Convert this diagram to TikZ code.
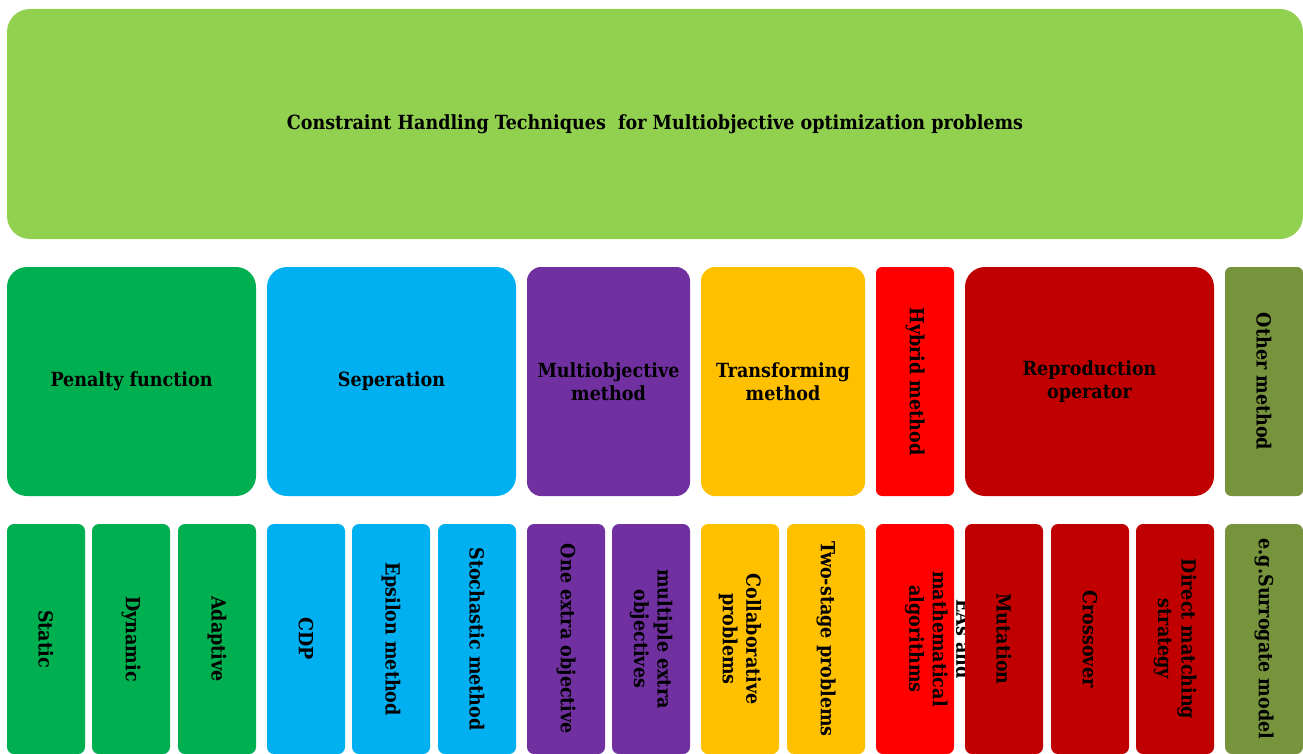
\documentclass[tikz,border=0pt]{standalone}
\usepackage{fontspec}
\setmainfont{DejaVuSerifCondensed}[Extension=.ttf, BoldFont=DejaVuSerifCondensed-Bold]
\definecolor{cTop}{HTML}{92D050}
\definecolor{cPen}{HTML}{00B050}
\definecolor{cSep}{HTML}{00B0F0}
\definecolor{cMul}{HTML}{7030A0}
\definecolor{cTra}{HTML}{FFC000}
\definecolor{cHyb}{HTML}{FF0000}
\definecolor{cRep}{HTML}{C00000}
\definecolor{cOth}{HTML}{77933C}
\tikzset{
  blk/.style={rectangle, draw=none, inner sep=0pt, align=center,
    font=\fontsize{19.5}{23.5}\selectfont\bfseries},
  big/.style={blk, rounded corners=20pt, minimum width=249pt, minimum height=229pt},
  mid/.style={blk, rounded corners=14pt, minimum height=229pt},
  thin/.style={blk, rounded corners=6pt, rotate=-90, minimum width=229pt, minimum height=78pt},
  leaf/.style={blk, rounded corners=7pt, rotate=-90, minimum width=230pt, minimum height=78pt},
  vtext/.style={blk, rotate=-90}
}
\begin{document}
\begin{tikzpicture}[x=1pt,y=-1pt]
\useasboundingbox (0,0) rectangle (1303,754);
% top
\node[blk, fill=cTop, rounded corners=23pt, minimum width=1296pt, minimum height=230pt] (top) at (655,124)
  {Constraint Handling Techniques\ \ for Multiobjective optimization problems};
% middle row
\node[big, fill=cPen] (pen) at (131.5,381.5) {Penalty function};
\node[big, fill=cSep] (sep) at (391.5,381.5) {Seperation};
\node[mid, fill=cMul, minimum width=163pt] (mul) at (608.5,381.5) {Multiobjective\\method};
\node[mid, fill=cTra, minimum width=164pt] (tra) at (783,381.5) {Transforming\\method};
\node[thin, fill=cHyb] (hyb) at (915,381.5) {Hybrid method};
\node[big, fill=cRep] (rep) at (1089.5,381.5) {Reproduction\\operator};
\node[thin, fill=cOth] (oth) at (1264,381.5) {Other method};
% bottom row
\node[leaf, fill=cPen] (sta) at (46,639) {Static};
\node[leaf, fill=cPen] (dyn) at (131,639) {Dynamic};
\node[leaf, fill=cPen] (ada) at (217,639) {Adaptive};
\node[leaf, fill=cSep] (cdp) at (306,639) {CDP};
\node[leaf, fill=cSep] (eps) at (391,639) {Epsilon method};
\node[leaf, fill=cSep] (sto) at (477,639) {Stochastic method};
\node[leaf, fill=cMul] (one) at (566,639) {One extra objective};
\node[leaf, fill=cMul] (mex) at (651,639) {multiple extra\\objectives};
\node[leaf, fill=cTra] (col) at (740,639) {Collaborative\\problems};
\node[leaf, fill=cTra] (two) at (826,639) {Two-stage problems};
\node[leaf, fill=cHyb] (hyb2) at (915,639) {};
\node[vtext] (hybt) at (938,639) {EAs and\\mathematical\\algorithms};
\node[leaf, fill=cRep] (mut) at (1004,639) {Mutation};
\node[leaf, fill=cRep] (cro) at (1090,639) {Crossover};
\node[leaf, fill=cRep] (dir) at (1175,639) {Direct matching\\strategy};
\node[leaf, fill=cOth] (sur) at (1264,639) {e.g.Surrogate model};
\end{tikzpicture}
\end{document}
